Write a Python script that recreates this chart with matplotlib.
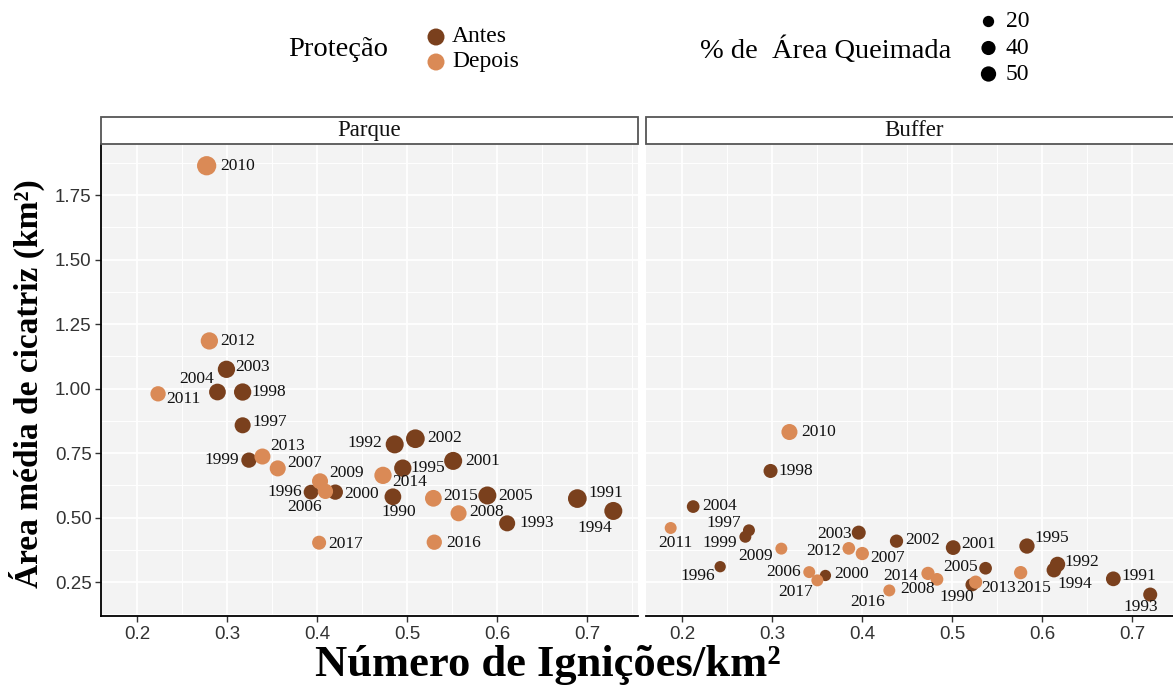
import numpy as np
import matplotlib.pyplot as plt
from matplotlib.patches import Rectangle

plt.rcParams['font.family'] = ['Liberation Serif', 'DejaVu Serif']

# Data
years = list(range(1990, 2018))
protecao = ['Antes'] * 16 + ['Depois'] * 12

parque_x = [0.484, 0.689, 0.486, 0.611, 0.729, 0.495, 0.393, 0.317, 0.317, 0.324,
            0.420, 0.551, 0.509, 0.299, 0.289, 0.589, 0.409, 0.356, 0.557, 0.403,
            0.277, 0.223, 0.280, 0.339, 0.473, 0.529, 0.530, 0.402]
parque_y = [0.581, 0.574, 0.784, 0.478, 0.526, 0.692, 0.599, 0.858, 0.987, 0.723,
            0.599, 0.720, 0.806, 1.075, 0.987, 0.586, 0.602, 0.691, 0.517, 0.641,
            1.864, 0.980, 1.185, 0.737, 0.664, 0.575, 0.405, 0.403]
parque_area = [64, 86, 78, 57, 78, 70, 45, 57, 70, 50,
               50, 78, 86, 70, 64, 78, 50, 57, 57, 57,
               93, 50, 70, 57, 70, 64, 50, 39]

buffer_x = [0.522, 0.679, 0.617, 0.720, 0.613, 0.583, 0.242, 0.274, 0.298, 0.270,
            0.359, 0.501, 0.438, 0.396, 0.212, 0.537, 0.341, 0.400, 0.483, 0.310,
            0.319, 0.187, 0.385, 0.526, 0.473, 0.576, 0.430, 0.350]
buffer_y = [0.240, 0.263, 0.319, 0.202, 0.297, 0.390, 0.310, 0.451, 0.681, 0.426,
            0.276, 0.384, 0.409, 0.442, 0.543, 0.304, 0.289, 0.361, 0.261, 0.380,
            0.832, 0.460, 0.381, 0.250, 0.284, 0.287, 0.218, 0.257]
buffer_area = [33, 45, 50, 39, 45, 50, 20, 24, 39, 24,
               20, 45, 33, 39, 29, 29, 24, 33, 29, 24,
               57, 24, 29, 33, 33, 33, 24, 24]

size_breaks = [20, 40, 50]
cores = {'Antes': '#7A401D', 'Depois': '#DA8A56'}

# label placement: year -> (dx px, dy px (down), ha)
lab_parque = {
    2010: (14, 0, 'left'), 2012: (11, 0, 'left'), 2003: (9, -2, 'left'),
    2004: (-3, -13, 'right'), 1998: (9, 0, 'left'), 2011: (8, 5, 'left'),
    1997: (10, -3, 'left'), 1999: (-10, 0, 'right'), 2013: (8, -11, 'left'),
    2007: (10, -5, 'left'), 2009: (9, -8, 'left'), 1996: (-9, 0, 'right'),
    2006: (-4, 16, 'right'), 2000: (9, 2, 'left'), 2017: (9, 1, 'left'),
    1992: (-12, -1, 'right'), 2002: (12, -1, 'left'), 1995: (8, 0, 'left'),
    2014: (9, 7, 'left'), 2001: (12, 0, 'left'), 1990: (6, 15, 'center'),
    2015: (10, -2, 'left'), 2005: (11, 1, 'left'), 2008: (11, -1, 'left'),
    1993: (12, 0, 'left'), 1991: (11, -6, 'left'), 1994: (-1, 17, 'right'),
    2016: (12, 1, 'left'),
}
lab_buffer = {
    2010: (12, 0, 'left'), 1998: (8, 0, 'left'), 2004: (9, -1, 'left'),
    2011: (5, 15, 'center'), 1997: (-8, -7, 'right'), 1999: (-8, 6, 'right'),
    2009: (-8, 7, 'right'), 1996: (-5, 9, 'right'), 2003: (-7, 1, 'right'),
    2012: (-8, 3, 'right'), 2007: (8, 4, 'left'), 2006: (-8, 0, 'right'),
    2017: (-4, 12, 'right'), 2000: (9, -1, 'left'), 2016: (-4, 12, 'right'),
    2002: (9, -1, 'left'), 2001: (8, -4, 'left'), 2005: (-8, -1, 'right'),
    2014: (-10, 3, 'right'), 2008: (-2, 10, 'right'), 1990: (2, 12, 'right'),
    2013: (6, 6, 'left'), 2015: (-4, 15, 'left'), 1995: (7, -8, 'left'),
    1992: (7, -2, 'left'), 1994: (3, 14, 'left'), 1991: (8, -3, 'left'),
    1993: (-9, 12, 'center'),
}

DPI = 100


def marker_s(v):
    # diameter in px grows with sqrt of the value, returned as scatter area in pt^2
    d = 4.42 + 1.54 * np.sqrt(np.asarray(v, dtype=float))
    return (d * 72 / DPI) ** 2


fig = plt.figure(figsize=(11.73, 6.89), dpi=DPI)
W, H = 1173, 689


def fig_box(x0, y0, x1, y1):
    return [x0 / W, 1 - y1 / H, (x1 - x0) / W, (y1 - y0) / H]


# shared limits with ggplot-like 5% expansion
allx = parque_x + buffer_x
ally = parque_y + buffer_y
ex = 0.05 * (max(allx) - min(allx))
ey = 0.05 * (max(ally) - min(ally))
xlim = (min(allx) - ex, max(allx) + ex)
ylim = (min(ally) - ey, max(ally) + ey)

panels = [
    ('Parque', parque_x, parque_y, parque_area, lab_parque, 101.3),
    ('Buffer', buffer_x, buffer_y, buffer_area, lab_buffer, 646.3),
]
pw = 536.4
for i, (nome, xs, ys, areas, labs, x0) in enumerate(panels):
    ax = fig.add_axes(fig_box(x0, 144.3, x0 + pw, 616))
    ax.set_facecolor('#F3F3F3')
    ax.set_xlim(*xlim)
    ax.set_ylim(*ylim)
    ax.set_xticks([0.2, 0.3, 0.4, 0.5, 0.6, 0.7])
    ax.set_xticks(np.arange(0.25, 0.8, 0.1), minor=True)
    ax.set_yticks([0.25, 0.5, 0.75, 1.0, 1.25, 1.5, 1.75])
    ax.set_yticks(np.arange(0.125, 1.95, 0.25), minor=True)
    ax.grid(which='major', color='white', lw=1.3)
    ax.grid(which='minor', color='white', lw=0.7)
    ax.set_axisbelow(True)
    for sp in ['top', 'right']:
        ax.spines[sp].set_visible(False)
    ax.spines['bottom'].set_color('black')
    ax.spines['bottom'].set_linewidth(1.3)
    ax.tick_params(which='minor', length=0)
    ax.tick_params(which='major', length=4, width=1.0, color='#333333',
                   labelsize=13.5, labelcolor='#333333', pad=3)
    for lab in ax.get_xticklabels() + ax.get_yticklabels():
        lab.set_family('Liberation Sans')
    if i == 0:
        ax.spines['left'].set_color('black')
        ax.spines['left'].set_linewidth(1.3)
        ax.set_yticklabels(['0.25', '0.50', '0.75', '1.00', '1.25', '1.50', '1.75'],
                           family='Liberation Sans')
    else:
        ax.spines['left'].set_visible(False)
        ax.tick_params(axis='y', which='both', left=False, labelleft=False)

    cols = [cores[p] for p in protecao]
    ax.scatter(xs, ys, s=marker_s(areas), c=cols, edgecolors='none', zorder=3)
    for yr, xv, yv in zip(years, xs, ys):
        dx, dy, ha = labs[yr]
        ax.annotate(str(yr), (xv, yv), xytext=(dx * 0.72, -dy * 0.72),
                    textcoords='offset points', ha=ha, va='center',
                    fontsize=12.5, color='#111111', zorder=4)

    # facet strip
    sax = fig.add_axes(fig_box(x0, 116.7, x0 + pw, 144.3))
    sax.set_xlim(0, 1)
    sax.set_ylim(0, 1)
    sax.axis('off')
    sax.add_patch(Rectangle((0, 0), 1, 1, transform=sax.transAxes, facecolor='white',
                            edgecolor='#555555', lw=1.3, clip_on=False))
    sax.text(0.5, 0.5, nome, ha='center', va='center', fontsize=16.5, color='#111111')

# overlay for legend and axis titles (pixel coordinates)
ov = fig.add_axes([0, 0, 1, 1], zorder=10)
ov.set_xlim(0, W)
ov.set_ylim(H, 0)
ov.axis('off')
ov.patch.set_alpha(0)

ov.text(288, 50, 'Proteção', ha='left', va='center', fontsize=20.5)
ov.scatter([436, 436], [37, 62], s=(17 * 0.72) ** 2,
           c=[cores['Antes'], cores['Depois']], edgecolors='none')
ov.text(452, 37, 'Antes', ha='left', va='center', fontsize=17)
ov.text(452, 62, 'Depois', ha='left', va='center', fontsize=17)

ov.text(700, 50, '% de  Área Queimada', ha='left', va='center', fontsize=20.5)
leg_y = [21.5, 48, 74]
ov.scatter([988.5] * 3, leg_y, s=marker_s(size_breaks), c='black', edgecolors='none')
for yy, b in zip(leg_y, size_breaks):
    ov.text(1006, yy, str(b), ha='left', va='center', fontsize=17)

ov.text(547.5, 676, 'Número de Ignições/km²', ha='center', va='baseline',
        fontsize=32, fontweight='bold')
ov.text(27, 384, 'Área média de cicatriz (km²)', ha='center', va='center',
        fontsize=24, fontweight='bold', rotation=90)

fig.savefig('out.png', dpi=DPI, facecolor='white')
